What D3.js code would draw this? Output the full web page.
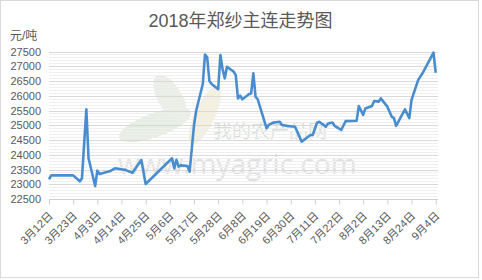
<!DOCTYPE html>
<html>
<head>
<meta charset="utf-8">
<script src="https://cdn.jsdelivr.net/npm/d3@7"></script>
<style>
  body { margin: 0; background: #fff; }
  text { font-family: "Liberation Sans", "Noto Sans CJK SC", sans-serif; }
</style>
</head>
<body>
<div id="chart"></div>
<script>
const dates = ["2018-03-12", "2018-03-13", "2018-03-23", "2018-03-26", "2018-03-27", "2018-03-29", "2018-03-30",
    "2018-04-02", "2018-04-03", "2018-04-04", "2018-04-09", "2018-04-11", "2018-04-16", "2018-04-19", "2018-04-23",
    "2018-04-25", "2018-05-07", "2018-05-08", "2018-05-09", "2018-05-10", "2018-05-11", "2018-05-14", "2018-05-15",
    "2018-05-16", "2018-05-17", "2018-05-18", "2018-05-21", "2018-05-22", "2018-05-23", "2018-05-24", "2018-05-25",
    "2018-05-28", "2018-05-29", "2018-05-30", "2018-05-31", "2018-06-01", "2018-06-04", "2018-06-05", "2018-06-06",
    "2018-06-07", "2018-06-08", "2018-06-11", "2018-06-12", "2018-06-13", "2018-06-14", "2018-06-15", "2018-06-19",
    "2018-06-20", "2018-06-22", "2018-06-25", "2018-06-26", "2018-06-28", "2018-07-02", "2018-07-05", "2018-07-09",
    "2018-07-10", "2018-07-12", "2018-07-13", "2018-07-16", "2018-07-17", "2018-07-19", "2018-07-20", "2018-07-23",
    "2018-07-25", "2018-07-30", "2018-07-31", "2018-08-02", "2018-08-03", "2018-08-06", "2018-08-07", "2018-08-09",
    "2018-08-10", "2018-08-13", "2018-08-15", "2018-08-16", "2018-08-17", "2018-08-21", "2018-08-23", "2018-08-24",
    "2018-08-27", "2018-08-29", "2018-09-03", "2018-09-04"]
const prices = [23170, 23300, 23300, 23100, 23200, 25540, 23880,
    22940, 23460, 23350, 23450, 23540, 23480, 23390, 23820,
    23010, 23880, 23540, 23830, 23600, 23640, 23620, 23430,
    24220, 25000, 25500, 26400, 27400, 27300, 26500, 26400,
    26220, 27380, 26900, 26590, 26980, 26820, 26700, 25910,
    26000, 25880, 26050, 26080, 26760, 25970, 25880, 24900,
    25010, 25090, 25120, 25010, 24980, 24950, 24440, 24670,
    24670, 25090, 25120, 24950, 25060, 25090, 24980, 24840,
    25140, 25150, 25650, 25350, 25570, 25650, 25820, 25800,
    25910, 25630, 25290, 25240, 24980, 25540, 25240, 25860,
    26530, 26760, 27460, 26780]

const tickDates = ["2018-03-12", "2018-03-23", "2018-04-03", "2018-04-14", "2018-04-25", "2018-05-06",
    "2018-05-17", "2018-05-28", "2018-06-08", "2018-06-19", "2018-06-30", "2018-07-11", "2018-07-22",
    "2018-08-02", "2018-08-13", "2018-08-24", "2018-09-04"]
const yTicks = [22500, 23000, 23500, 24000, 24500, 25000, 25500, 26000, 26500, 27000, 27500]
const yMinor = d3.range(22600, 27500, 100).filter(v => v % 500 != 0)

const parse = d3.utcParse("%Y-%m-%d")
const data = dates.map((d, i) => ({ date: parse(d), value: prices[i] }))

const W = 482, H = 280
const plotLeft = 49, plotRight = 435.7, plotTop = 51.5, plotBottom = 199

const svg = d3.select("#chart").append("svg")
    .attr("width", W)
    .attr("height", H)

svg.append("rect")
    .attr("x", 0.5).attr("y", 0.5)
    .attr("width", 478).attr("height", 277)
    .attr("fill", "#fff")
    .attr("stroke", "#d9d9d9")

const x = d3.scaleUtc()
    .domain([parse(tickDates[0]), parse(tickDates[tickDates.length - 1])])
    .range([plotLeft, plotRight])

const y = d3.scaleLinear()
    .domain([22500, 27500])
    .range([plotBottom, plotTop])

// watermark
const wm = svg.append("g")
wm.append("ellipse").attr("cx", 155).attr("cy", 125).attr("rx", 38).attr("ry", 12)
    .attr("transform", "rotate(-20,155,125)").attr("fill", "#e6ede1")
wm.append("ellipse").attr("cx", 170).attr("cy", 98).attr("rx", 12).attr("ry", 26)
    .attr("transform", "rotate(-30,170,98)").attr("fill", "#e9efe5")
wm.append("ellipse").attr("cx", 205).attr("cy", 115).attr("rx", 10).attr("ry", 32)
    .attr("transform", "rotate(25,205,115)").attr("fill", "#f5f0dc")
wm.append("text")
    .attr("x", 213).attr("y", 138)
    .attr("font-size", 19)
    .attr("fill", "#d9dfd6")
    .style("font-family", "Noto Sans CJK SC")
    .text("我的农产品网")
wm.append("text")
    .attr("x", 118).attr("y", 174)
    .attr("font-size", 28)
    .attr("fill", "#e0e0e0")
    .style("font-family", "Open Sans")
    .text("www.myagric.com")

// grid lines
svg.append("g")
    .selectAll("line")
    .data(yMinor)
    .join("line")
    .attr("x1", plotLeft).attr("x2", 438)
    .attr("y1", d => Math.round(y(d)) + 0.5)
    .attr("y2", d => Math.round(y(d)) + 0.5)
    .attr("stroke", "#efefef")

svg.append("g")
    .selectAll("line")
    .data(yTicks.slice(1))
    .join("line")
    .attr("x1", plotLeft).attr("x2", 438)
    .attr("y1", d => Math.round(y(d)) + 0.5)
    .attr("y2", d => Math.round(y(d)) + 0.5)
    .attr("stroke", "#d9d9d9")

// y axis labels
const yAxis = svg.append("g")
    .attr("transform", `translate(${plotLeft},0)`)
    .call(d3.axisLeft(y).tickValues(yTicks).tickSize(0).tickPadding(8).tickFormat(d3.format("d")))
yAxis.select(".domain").remove()
yAxis.selectAll("text")
    .attr("font-size", 11)
    .attr("fill", "#595959")
    .style("font-family", "Liberation Sans")

// x axis
const xAxis = svg.append("g")
    .attr("transform", `translate(0,${Math.round(plotBottom) + 0.5})`)
    .call(d3.axisBottom(x)
        .tickValues(tickDates.map(parse))
        .tickSize(5)
        .tickSizeOuter(0)
        .tickFormat(d3.utcFormat("%-m月%-d日")))
xAxis.select(".domain").attr("stroke", "#d0d0d0").attr("d", `M${plotLeft},0H438`)
xAxis.selectAll(".tick line").attr("stroke", "#d0d0d0")
xAxis.selectAll("text")
    .attr("font-size", 11)
    .attr("fill", "#595959")
    .attr("text-anchor", "end")
    .attr("dy", 0)
    .attr("y", 0)
    .attr("transform", "translate(4,17) rotate(-45)")

// line
const line = d3.line()
    .x(d => x(d.date))
    .y(d => y(d.value))

svg.append("path")
    .datum(data)
    .attr("d", line)
    .attr("fill", "none")
    .attr("stroke", "#4a8dcf")
    .attr("stroke-width", 2.6)
    .attr("stroke-linejoin", "round")

// titles
svg.append("text")
    .attr("x", 240.5).attr("y", 27)
    .attr("text-anchor", "middle")
    .attr("font-size", 18)
    .attr("fill", "#595959")
    .text("2018年郑纱主连走势图")

svg.append("text")
    .attr("x", 10).attr("y", 40)
    .attr("font-size", 12)
    .attr("fill", "#595959")
    .text("元/吨")
</script>
</body>
</html>
